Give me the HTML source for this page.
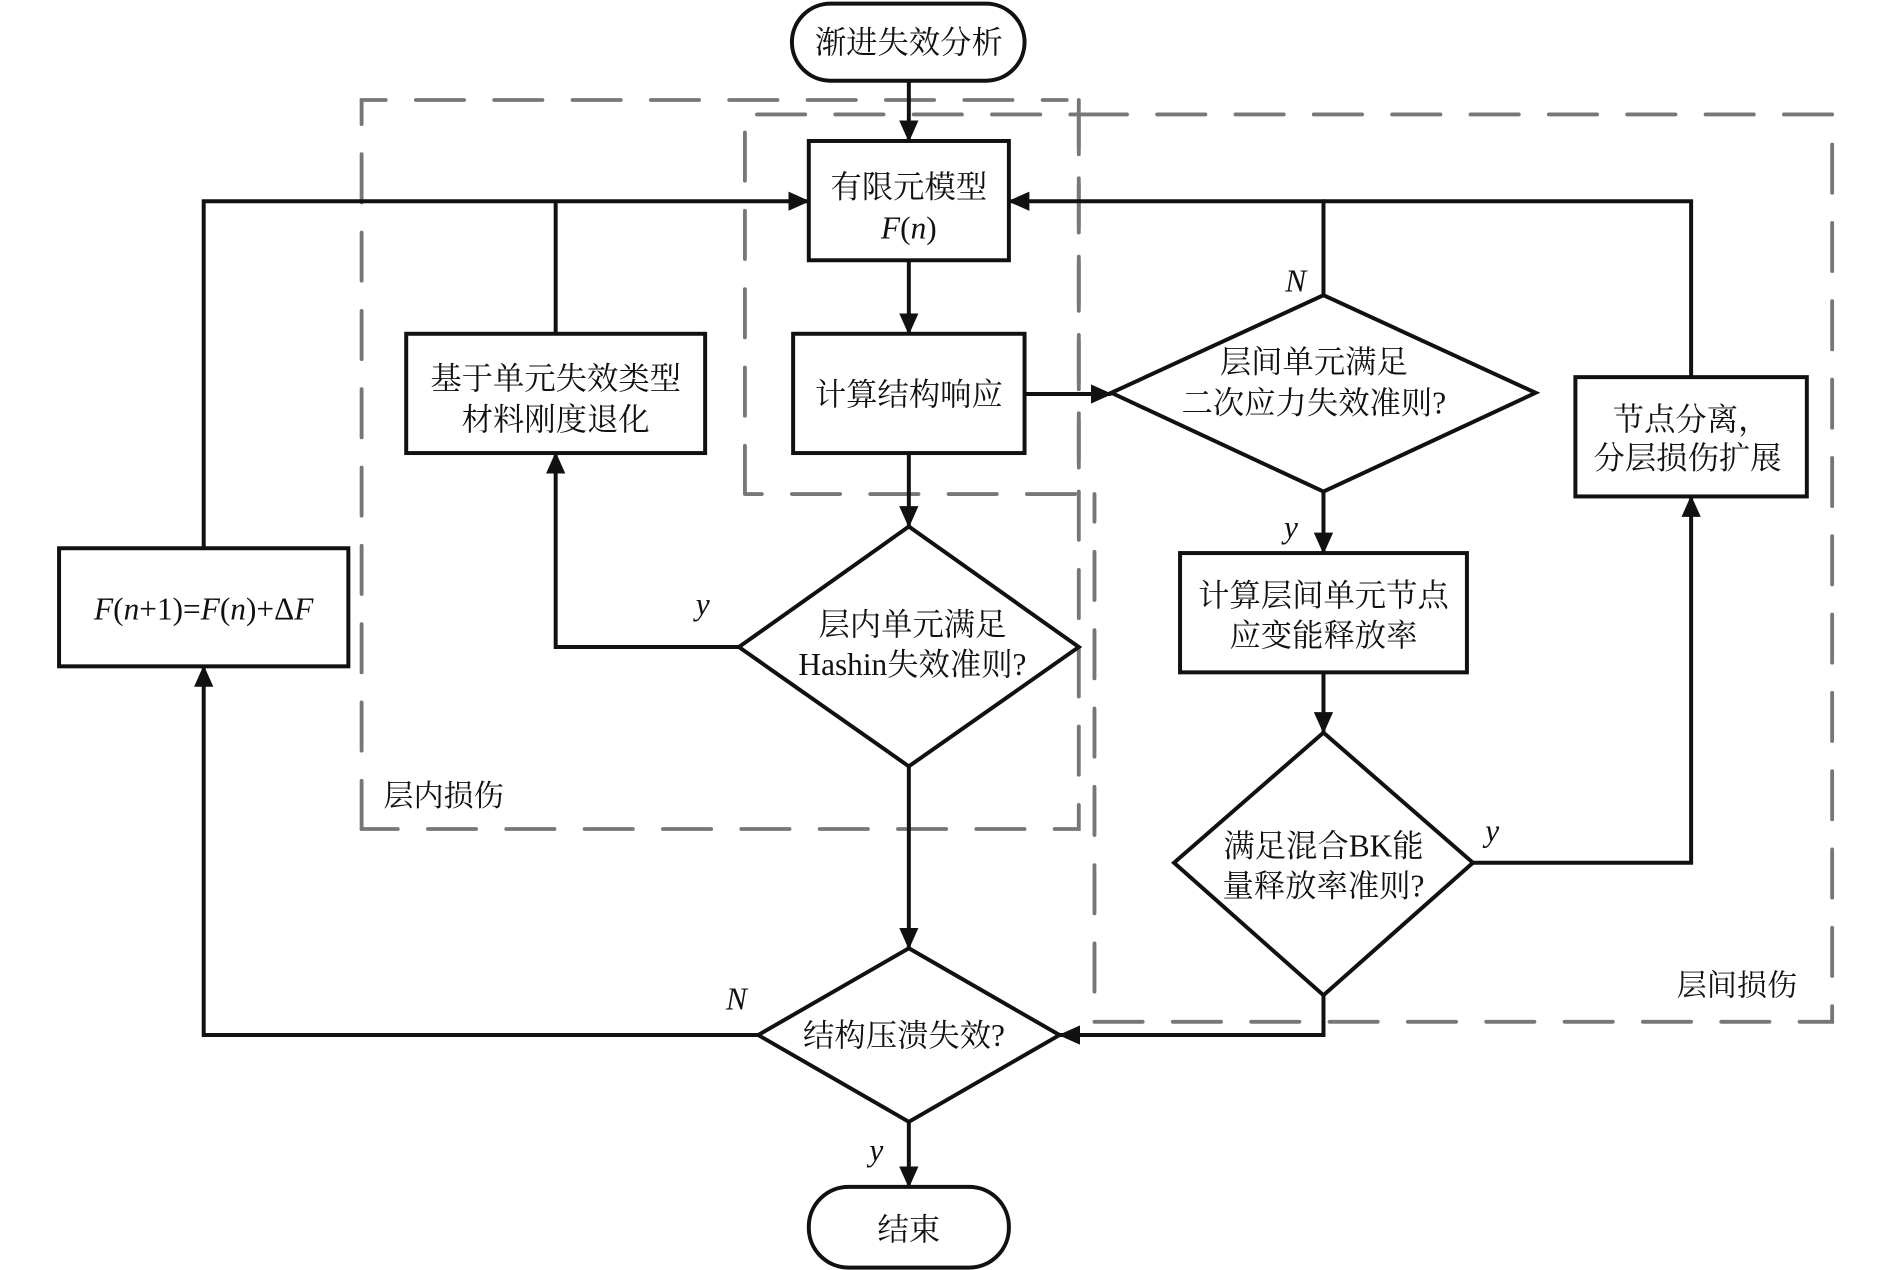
<!DOCTYPE html>
<html><head><meta charset="utf-8"><style>
html,body{margin:0;padding:0;background:#fff;}
svg{display:block;}
text{font-family:"Liberation Serif","Noto Serif CJK SC","Noto Sans CJK SC",serif;fill:#111;font-size:26px;text-anchor:middle;}
.it{font-style:italic;}
</style></head><body>
<svg width="1890" height="1270" viewBox="0 0 1568 1054" preserveAspectRatio="none" xmlns="http://www.w3.org/2000/svg">
<defs>
<marker id="a" markerWidth="10" markerHeight="10" refX="9" refY="5" orient="auto" markerUnits="userSpaceOnUse">
<path d="M0,0 L10,5 L0,10 z" fill="#111"/></marker>
<marker id="b" markerWidth="18" markerHeight="16" refX="17" refY="8" orient="auto" markerUnits="userSpaceOnUse">
<path d="M0,0 L18,8 L0,16 z" fill="#111"/></marker>
</defs>
<!-- dashed groups -->
<g fill="none" stroke="#777" stroke-width="3.2" stroke-dasharray="40,25" stroke-linecap="round">
<path d="M300,688 L300,83 L885,83"/>
<path d="M895,83 L895,688 L300,688"/>
<path d="M618,410 L618,95 L895,95 L895,410 L618,410"/>
<path d="M895,95 L1520,95 L1520,848 L908,848 L908,410"/>
</g>
<text x="368" y="669" style="font-size:25px">层内损伤</text>
<text x="1441" y="826" style="font-size:25px">层间损伤</text>

<g fill="#fff" stroke="#111" stroke-width="3.3">
<rect x="657" y="3" width="193" height="64" rx="32"/>
<rect x="671" y="117" width="166" height="99"/>
<rect x="658" y="277" width="192" height="99"/>
<rect x="337" y="277" width="248" height="99"/>
<rect x="49" y="455" width="240" height="98"/>
<polygon points="754,437 895,537 754,636 613,537"/>
<polygon points="754,787 879,859 754,931 629,859"/>
<rect x="671" y="985" width="166" height="67" rx="33"/>
<polygon points="1098,245 1274,326 1098,408 922,326"/>
<rect x="979" y="459" width="238" height="99"/>
<polygon points="1098,608 1222,716 1098,826 974,716"/>
<rect x="1307" y="313" width="192" height="99"/>
</g>

<g fill="none" stroke="#111" stroke-width="3.3" marker-end="url(#b)">
<path d="M754,67 L754,117"/>
<path d="M754,216 L754,277"/>
<path d="M754,376 L754,437"/>
<path d="M754,636 L754,787"/>
<path d="M754,931 L754,985"/>
<path d="M613,537 L461,537 L461,376"/>
<path d="M169,455 L169,167 L671,167"/>
<path d="M629,859 L169,859 L169,553"/>
<path d="M850,327 L922,327"/>
<path d="M1098,245 L1098,167 L837,167"/>
<path d="M1098,408 L1098,459"/>
<path d="M1098,558 L1098,608"/>
<path d="M1222,716 L1403,716 L1403,412"/>
<path d="M1098,826 L1098,859 L879,859"/>
</g>
<g fill="none" stroke="#111" stroke-width="3.3">
<path d="M461,277 L461,167"/>
<path d="M1403,313 L1403,167 L1098,167"/>
</g>

<text x="754" y="44">渐进失效分析</text>
<text x="754" y="164">有限元模型</text>
<text x="754" y="198"><tspan class="it">F</tspan>(<tspan class="it">n</tspan>)</text>
<text x="754" y="336">计算结构响应</text>
<text x="461" y="323">基于单元失效类型</text>
<text x="461" y="357">材料刚度退化</text>
<text x="169" y="514"><tspan class="it">F</tspan>(<tspan class="it">n</tspan>+1)=<tspan class="it">F</tspan>(<tspan class="it">n</tspan>)+Δ<tspan class="it">F</tspan></text>
<text x="757" y="527">层内单元满足</text>
<text x="757" y="560">Hashin失效准则?</text>
<text x="750" y="868">结构压溃失效?</text>
<text x="754" y="1029">结束</text>
<text x="1090" y="309">层间单元满足</text>
<text x="1090" y="343">二次应力失效准则?</text>
<text x="1098" y="503">计算层间单元节点</text>
<text x="1098" y="536">应变能释放率</text>
<text x="1098" y="711">满足混合BK能</text>
<text x="1098" y="744">量释放率准则?</text>
<text x="1403" y="357">节点分离，</text>
<text x="1400" y="389">分层损伤扩展</text>

<text class="it" x="583" y="510">y</text>
<text class="it" x="611" y="838">N</text>
<text class="it" x="727" y="963">y</text>
<text class="it" x="1075" y="242">N</text>
<text class="it" x="1071" y="446">y</text>
<text class="it" x="1238" y="698">y</text>
</svg>
</body></html>
